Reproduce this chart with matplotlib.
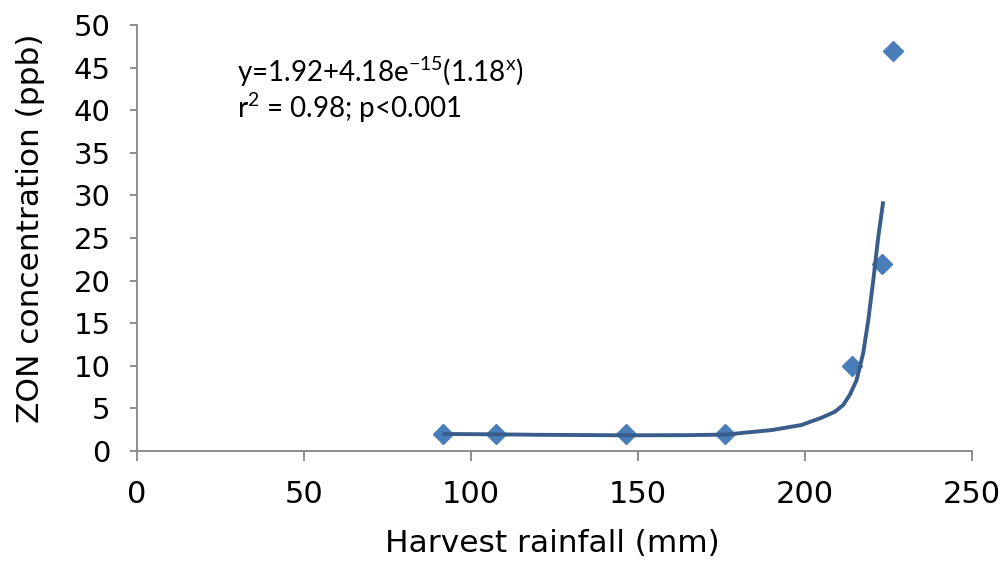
import matplotlib
matplotlib.use('Agg')
import matplotlib.pyplot as plt

# measured points
rain = [91.5, 107.5, 146.5, 176, 214, 223, 226.5]
zon = [2, 2, 2, 2, 10, 22, 47]

# fitted curve, as drawn
fit_x = [91.5, 107.5, 120, 146.5, 165, 176, 190, 199, 205, 209, 211.5,
         213.5, 215.5, 217.5, 219, 220.5, 222, 223.5]
fit_y = [2.0, 1.95, 1.9, 1.84, 1.86, 1.92, 2.45, 3.05, 3.9, 4.6, 5.4,
         6.6, 8.3, 11.5, 15.3, 20.0, 25.1, 29.3]

xticks = [0, 50, 100, 150, 200, 250]
yticks = list(range(0, 55, 5))

plt.rcParams['mathtext.fontset'] = 'custom'
plt.rcParams['mathtext.rm'] = 'Lato'

fig = plt.figure(figsize=(10.08, 5.65), dpi=100)
ax = fig.add_axes([0.136, 0.2018, 0.828, 0.754])

ax.plot(rain, zon, linestyle='none', marker='D', ms=10, color='#4a7ebb', zorder=2)
ax.plot(fit_x, fit_y, color='#385d8a', lw=2.8, zorder=3, solid_capstyle='butt')

ax.set_xlim(0, 250)
ax.set_ylim(0, 50)
ax.set_xticks(xticks)
ax.set_yticks(yticks)

axcol = '#868686'
for s in ['top', 'right']:
    ax.spines[s].set_visible(False)
for s in ['left', 'bottom']:
    ax.spines[s].set_color(axcol)
    ax.spines[s].set_linewidth(1.3)
ax.tick_params(axis='y', direction='out', length=5, width=1.3, color=axcol,
               labelsize=21, pad=14)
ax.tick_params(axis='x', direction='out', length=7, width=1.3, color=axcol,
               labelsize=22, pad=14)

ax.set_xlabel('Harvest rainfall (mm)', fontsize=22.5)
ax.set_ylabel('ZON concentration (ppb)', fontsize=22.5)
ax.xaxis.set_label_coords(0.497, -0.216)
ax.yaxis.set_label_coords(-0.128, 0.523)
ax.xaxis.label.set_va('center')
ax.yaxis.label.set_va('center')

ax.text(30, 44.5, r'y=1.92+4.18e$^{\mathregular{-15}}$(1.18$^{\mathregular{x}}$)',
        fontsize=20, family='Lato', va='center', ha='left')
ax.text(30, 40.3, r'r$^{\mathregular{2}}$ = 0.98; p<0.001',
        fontsize=20, family='Lato', va='center', ha='left')

fig.savefig('out.png', dpi=100)
